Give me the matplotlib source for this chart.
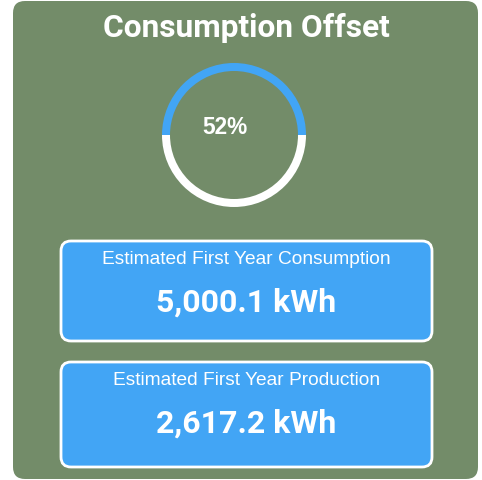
import matplotlib.pyplot as plt
from matplotlib.patches import FancyBboxPatch, Wedge

# data
title = 'Consumption Offset'
offset_label = '52%'
ring_values = [50, 50]  # blue arc / remainder as drawn
ring_colors = ['#42a5f5', '#ffffff']
card_labels = ['Estimated First Year Consumption', 'Estimated First Year Production']
card_values = ['5,000.1 kWh', '2,617.2 kWh']

W, H = 482, 481
green = '#738c69'
blue = '#42a5f5'

fig = plt.figure(figsize=(W / 100, H / 100), dpi=100)
ax = fig.add_axes([0, 0, 1, 1])
ax.set_xlim(0, W)
ax.set_ylim(0, H)
ax.axis('off')

def y(px):
    return H - px

# panel
ax.add_patch(FancyBboxPatch((13 + 12, y(480) + 12), 465 - 24, 478 - 24,
                            boxstyle='round,pad=12', fc=green, ec='none'))
ax.text(246, y(28), title, ha='center', va='center', color='white',
        fontsize=22.8, fontweight='bold', family='Roboto')

# ring
cx, cy, r = 234, y(136), 72
start = 0
total = sum(ring_values)
for v, c in zip(ring_values, ring_colors):
    ang = 360 * v / total
    ax.add_patch(Wedge((cx, cy), r, start, start + ang, width=8, fc=c, ec='none'))
    start += ang
ax.text(225, y(128), offset_label, ha='center', va='center', color='white',
        fontsize=16.3, fontweight='bold', family='Liberation Sans')

# cards
tops = [242, 363]
for top, lab, val in zip(tops, card_labels, card_values):
    h = 100 if top == 242 else 105
    rad = 10
    ax.add_patch(FancyBboxPatch((61 + rad, y(top + h) + rad), 371 - 2 * rad, h - 2 * rad,
                                boxstyle='round,pad=%d' % rad, fc=blue, ec='white', lw=2))
    ax.text(246.5, y(top + 18), lab, ha='center', va='center', color='white',
            fontsize=13.8, family='Liberation Sans')
    ax.text(246, y(top + 61), val, ha='center', va='center', color='white',
            fontsize=23, fontweight='bold', family='Roboto')

fig.savefig('out.png', dpi=100, facecolor='white')
